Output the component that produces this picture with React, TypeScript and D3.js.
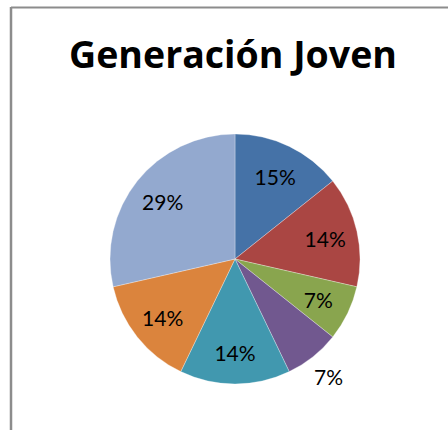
import React from "react";
import * as d3 from "d3";

const title = "Generación Joven";
const categories = ["A", "B", "C", "D", "E", "F", "G"];
const values = [2, 2, 1, 1, 2, 2, 4];
const labels = ["15%", "14%", "7%", "7%", "14%", "14%", "29%"];
const colors = ["#4572A7", "#AA4643", "#89A54E", "#71588F", "#4198AF", "#DB843D", "#93A9CF"];
const outsideLabels = [false, false, false, true, false, false, false];

const W = 448;
const H = 430;
const cx = 235;
const cy = 259;
const R = 125;

export default function App() {
  const pie = d3.pie<number>().sort(null).value((d) => d)(values);
  const arc = d3.arc<d3.PieArcDatum<number>>().innerRadius(0).outerRadius(R);
  const inLabel = d3.arc<d3.PieArcDatum<number>>().innerRadius(R * 0.74).outerRadius(R * 0.74);
  const outLabel = d3.arc<d3.PieArcDatum<number>>().innerRadius(R * 1.2).outerRadius(R * 1.2);
  return (
    <svg
      width={W}
      height={H}
      style={{ position: "fixed", left: 0, top: 0, background: "#fff" }}
    >
      <rect x={0} y={0} width={W} height={H} fill="#fff" />
      <line x1={11} y1={7.5} x2={W} y2={7.5} stroke="#8c8c8c" strokeWidth={2} />
      <line x1={11} y1={7} x2={11} y2={H} stroke="#8c8c8c" strokeWidth={2.5} />
      <text
        x={233}
        y={68}
        textAnchor="middle"
        fontFamily="'Open Sans', Lato, sans-serif"
        fontWeight="bold"
        fontSize={37.5}
        fill="#000"
      >
        {title}
      </text>
      <g transform={`translate(${cx},${cy})`}>
        {pie.map((p, i) => (
          <path key={categories[i]} d={arc(p) || ""} fill={colors[i]} stroke="#ffffff" strokeOpacity={0.5} strokeWidth={0.6} />
        ))}
        {pie.map((p, i) => {
          const [lx, ly] = outsideLabels[i] ? outLabel.centroid(p) : inLabel.centroid(p);
          return (
            <text
              key={"l" + i}
              x={lx}
              y={ly + 9}
              textAnchor="middle"
              fontFamily="Lato, 'Open Sans', sans-serif"
              fontSize={21}
              fill="#000"
            >
              {labels[i]}
            </text>
          );
        })}
      </g>
    </svg>
  );
}
